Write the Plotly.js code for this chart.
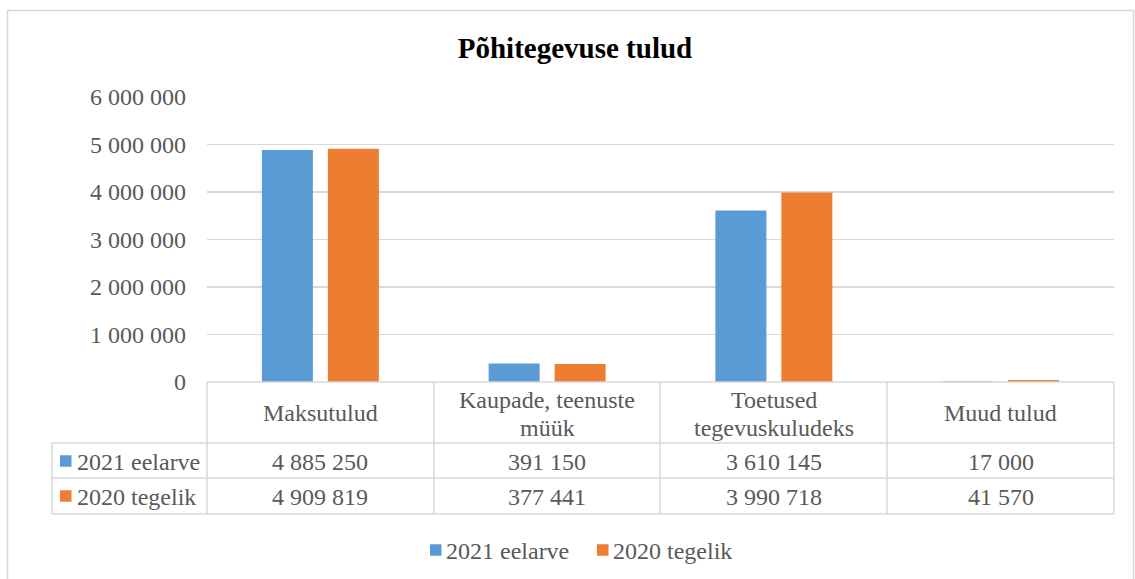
<!DOCTYPE html>
<html>
<head>
<meta charset="utf-8">
<script src="https://cdn.plot.ly/plotly-3.0.1.min.js"></script>
<style>html,body{margin:0;padding:0;background:#fff;}#chart{width:1135px;height:579px;}</style>
</head>
<body>
<div id="chart"></div>
<script>
var categories = ["Maksutulud", "Kaupade, teenuste müük", "Toetused tegevuskuludeks", "Muud tulud"];
var headerLabels = [["Maksutulud"], ["Kaupade, teenuste", "müük"], ["Toetused", "tegevuskuludeks"], ["Muud tulud"]];
var seriesNames = ["2021 eelarve", "2020 tegelik"];
var budget2021 = [4885250, 391150, 3610145, 17000];
var actual2020 = [4909819, 377441, 3990718, 41570];
var yTicks = [0, 1000000, 2000000, 3000000, 4000000, 5000000, 6000000];

var W = 1135, H = 579;
var L = 207, R = 1114, T = 97, B = 382;
function px(x){ return (x - L) / (R - L); }
function py(y){ return (B - y) / (B - T); }
function fmt(v){ return String(v).replace(/\B(?=(\d{3})+(?!\d))/g, " "); }

var colors = ["#5b9bd5", "#ed7d31"];
var FONT = "Liberation Serif";
var FS = 24;
var TXT = "#595959";
var GRID = "#d9d9d9";

var traces = [
  {type:"bar", name:seriesNames[0], x:categories, y:budget2021, marker:{color:colors[0]}, hoverinfo:"none"},
  {type:"bar", name:seriesNames[1], x:categories, y:actual2020, marker:{color:colors[1]}, hoverinfo:"none"}
];

var shapes = [];
function line(x0,y0,x1,y1){
  shapes.push({type:"line", xref:"paper", yref:"paper", x0:px(x0), y0:py(y0), x1:px(x1), y1:py(y1), line:{color:GRID, width:1.5}});
}
function square(x, yc, color){
  shapes.push({type:"rect", xref:"paper", yref:"paper", x0:px(x), x1:px(x+11.5), y0:py(yc-5.75), y1:py(yc+5.75), line:{width:0}, fillcolor:color});
}
// outer chart border
shapes.push({type:"rect", xref:"paper", yref:"paper", x0:px(7.5), y0:py(10.5), x1:px(1133.5), y1:py(590), line:{color:GRID, width:1.5}, fillcolor:"rgba(0,0,0,0)"});
// table grid
var colX = [207, 434, 660, 887, 1114];
var rowY = [382, 443, 478, 514];
line(207, 382, 1114, 382);
line(52, 443, 1114, 443);
line(52, 478, 1114, 478);
line(52, 514, 1114, 514);
line(52, 443, 52, 514);
colX.forEach(function(x){ line(x, 382, x, 514); });

var annotations = [];
function ann(xv, xref, y, text, anchor, size, color){
  annotations.push({xref:xref, yref:"paper", x:xv, y:py(y), text:text, showarrow:false, xanchor:anchor||"center", yanchor:"middle", font:{family:FONT, size:size||FS, color:color||TXT}});
}
categories.forEach(function(c, i){
  var lines = headerLabels[i];
  if (lines.length === 1) ann(c, "x", 413, lines[0]);
  else { ann(c, "x", 400, lines[0]); ann(c, "x", 428, lines[1]); }
  ann(c, "x", 462, fmt(budget2021[i]));
  ann(c, "x", 497, fmt(actual2020[i]));
});
// table row legend keys and names
var rowC = [461, 496];
[0,1].forEach(function(i){
  square(60, rowC[i], colors[i]);
  ann(px(75), "paper", rowC[i] + 1, seriesNames[i], "left");
});
// bottom legend
var legX = [430, 597];
[0,1].forEach(function(i){
  square(legX[i], 550, colors[i]);
  ann(px(legX[i] + 14), "paper", 551, seriesNames[i], "left");
});

var layout = {
  width: W, height: H,
  margin: {l:L, r:W-R, t:T, b:H-B, pad:0},
  paper_bgcolor:"#fff", plot_bgcolor:"#fff",
  separators: ", ",
  font: {family:FONT, color:TXT},
  title: {text:"<b>Põhitegevuse tulud</b>", x:575/W, xref:"container", xanchor:"center", y:1-48/H, yref:"container", yanchor:"middle", font:{family:FONT, size:29, color:"#000"}},
  barmode:"group", bargap:0.418, bargroupgap:0.227,
  xaxis: {type:"category", showticklabels:false, showgrid:false, zeroline:false, showline:false, ticks:"", fixedrange:true},
  yaxis: {range:[0, 6000000], tickvals:yTicks, tickformat:",d", showgrid:true, gridcolor:GRID, gridwidth:1.5, zeroline:false, showline:false, ticks:"", ticklabelstandoff:20, tickfont:{family:FONT, size:FS, color:TXT}, fixedrange:true},
  showlegend:false,
  shapes: shapes,
  annotations: annotations
};
Plotly.newPlot("chart", traces, layout, {displayModeBar:false, staticPlot:true});
</script>
</body>
</html>
